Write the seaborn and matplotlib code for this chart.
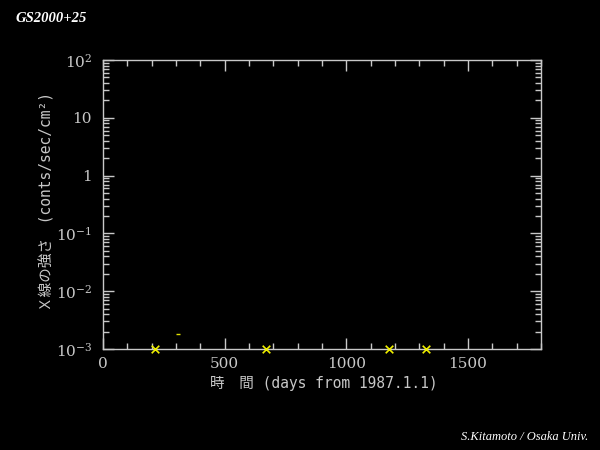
import matplotlib
matplotlib.use("Agg")
import matplotlib.pyplot as plt
import matplotlib.ticker as mticker
import seaborn as sns
import pandas as pd

# data
limit_days = [215, 671, 1175, 1326]
limit_flux = [1e-3, 1e-3, 1e-3, 1e-3]
det_days = [309]
det_flux = [1.8e-3]

title = "GS2000+25"
credit = "S.Kitamoto / Osaka Univ."
xlabel = "時　間 (days from 1987.1.1)"
ylabel = "Ｘ線の強さ　(conts/sec/cm²)"
ytick_vals = [1e-3, 1e-2, 1e-1, 1, 10, 100]
ytick_labels = ["10$^{-3}$", "10$^{-2}$", "10$^{-1}$", "1", "10", "10$^{2}$"]
xtick_vals = [0, 500, 1000, 1500]
xtick_labels = ["0", "500", "1000", "1500"]

sns.set_style("dark")
plt.rcParams["mathtext.fontset"] = "dejavuserif"
grey = "#c8c8c8"
label_family = ["DejaVu Sans Mono", "Noto Sans CJK JP"]

fig = plt.figure(figsize=(6, 4.5), dpi=100, facecolor="black")
ax = fig.add_axes([0.1717, 0.2244, 0.73, 0.6423])
ax.set_facecolor("black")

df_lim = pd.DataFrame({"day": limit_days, "flux": limit_flux})
df_det = pd.DataFrame({"day": det_days, "flux": det_flux})
sns.scatterplot(data=df_lim, x="day", y="flux", marker="x", color="#f0f000",
                s=30, linewidth=1.2, ax=ax, clip_on=False, zorder=5)
sns.scatterplot(data=df_det, x="day", y="flux", marker="_", color="#e0e000",
                s=12, linewidth=1.0, ax=ax, clip_on=False, zorder=5)

ax.set_yscale("log")
ax.set_xlim(0, 1800)
ax.set_ylim(1e-3, 100)
ax.grid(False)

for sp in ax.spines.values():
    sp.set_color(grey)
    sp.set_linewidth(1.0)
    sp.set_visible(True)

ax.set_xticks(xtick_vals)
ax.set_xticklabels(xtick_labels)
ax.xaxis.set_minor_locator(mticker.MultipleLocator(100))
ax.set_yticks(ytick_vals)
ax.set_yticklabels(ytick_labels)
ax.yaxis.set_minor_locator(mticker.LogLocator(base=10, subs=range(2, 10), numticks=20))
ax.yaxis.set_minor_formatter(mticker.NullFormatter())

ax.tick_params(which="both", direction="in", top=True, right=True,
               colors=grey, labelcolor=grey, bottom=True, left=True)
ax.tick_params(which="major", length=8, width=1, labelsize=11)
ax.tick_params(axis="y", which="major", pad=8)
ax.tick_params(axis="x", which="major", pad=6)
ax.tick_params(which="minor", length=4, width=1)
for lab in ax.get_xticklabels() + ax.get_yticklabels():
    lab.set_family("DejaVu Serif")

ax.set_xlabel(xlabel, color=grey, fontsize=10.5, family=label_family, va="center")
ax.xaxis.set_label_coords(0.5035, -0.118)
ax.set_ylabel(ylabel, color=grey, fontsize=10.5, family=label_family, va="center")
ax.yaxis.set_label_coords(-0.128, 0.512)

fig.text(15 / 600, 1 - 18 / 450, title, color="white", fontsize=10.5,
         family="Liberation Serif", style="italic", weight="bold", va="center", ha="left")
fig.text(588 / 600, 1 - 437 / 450, credit, color="white", fontsize=9,
         family="Liberation Serif", style="italic", va="center", ha="right")

fig.savefig("out.png", dpi=100, facecolor="black")
